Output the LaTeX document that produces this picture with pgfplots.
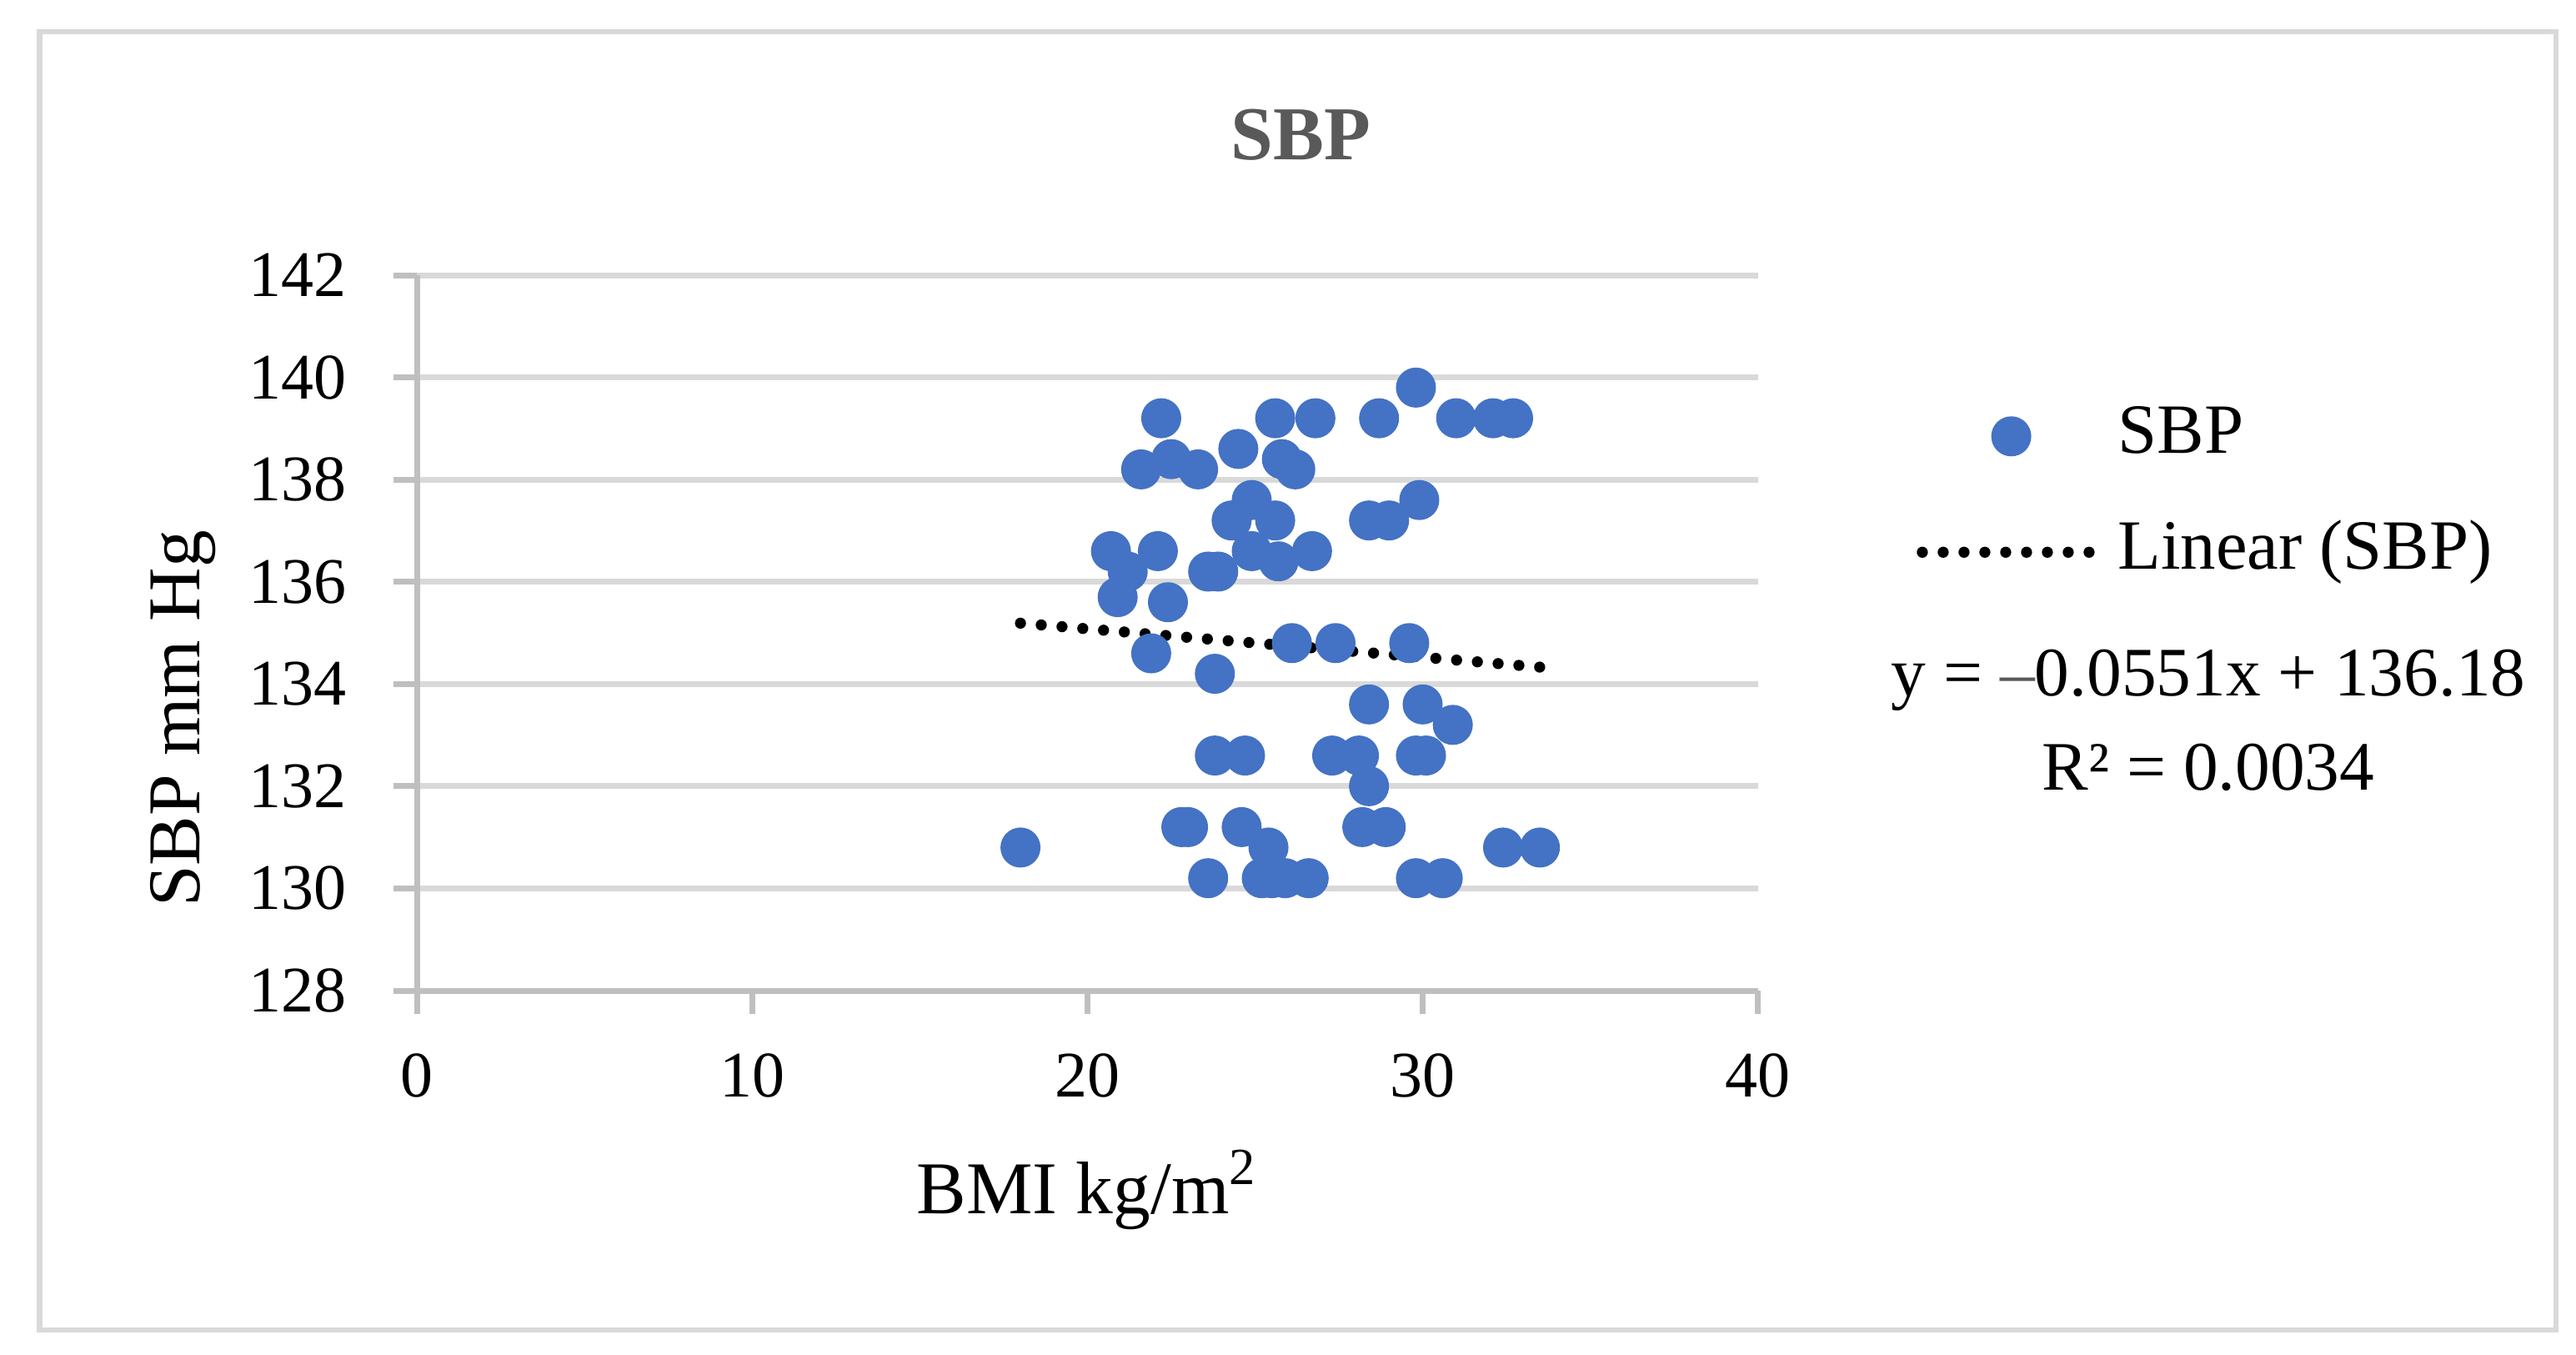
\documentclass[border=0pt]{standalone}
\usepackage{fontspec}
\setmainfont{Liberation Serif}
\usepackage{pgfplots}
\pgfplotsset{compat=1.18}
\usepackage{pgfplotstable}

\definecolor{sbpblue}{HTML}{4472C4}
\definecolor{gridgray}{HTML}{D9D9D9}
\definecolor{axisgray}{HTML}{BFBFBF}
\definecolor{titlegray}{HTML}{595959}

\pgfplotsset{
  dotlegend/.style={legend image code/.code={
    \draw[##1] plot[only marks] coordinates {(16pt,0pt)};}},
  linelegend/.style={legend image code/.code={\draw[##1] (0pt,0pt) -- (32pt,0pt);}},
}

% BMI (kg/m^2) against SBP (mm Hg)
\pgfplotstableread{
bmi sbp
22.2 139.2
21.6 138.2
22.5 138.4
23.3 138.2
24.5 138.6
25.6 139.2
26.8 139.2
25.8 138.4
26.2 138.2
28.7 139.2
29.8 139.8
31.0 139.2
32.1 139.2
32.7 139.2
24.9 137.6
24.3 137.2
25.6 137.2
24.9 136.6
25.7 136.4
26.7 136.6
23.6 136.2
23.9 136.2
20.7 136.6
21.2 136.2
22.1 136.6
20.9 135.7
22.4 135.6
21.9 134.6
23.8 134.2
26.1 134.8
27.4 134.8
29.6 134.8
29.9 137.6
28.4 137.2
29.0 137.2
28.4 133.6
30.0 133.6
30.9 133.2
23.8 132.6
24.7 132.6
27.3 132.6
28.1 132.6
28.4 132.0
29.8 132.6
30.1 132.6
18.0 130.8
22.8 131.2
23.0 131.2
24.6 131.2
25.4 130.8
23.6 130.2
25.2 130.2
25.5 130.2
25.9 130.2
26.6 130.2
28.2 131.2
28.9 131.2
29.8 130.2
30.6 130.2
32.4 130.8
33.5 130.8
}\sbpdata

\begin{document}
\begin{tikzpicture}
\useasboundingbox (-75.075pt,-65.55pt) rectangle (388.425pt,178.2pt);
\draw[gridgray, line width=1pt] (-67.9pt,-61.05pt) rectangle (384.8pt,172.5pt);
\node[anchor=base, text=titlegray, font=\bfseries\fontsize{13.7}{16}\selectfont] at (159pt,149.4pt) {SBP};

\begin{axis}[
  scale only axis, width=241.2pt, height=128.7pt,
  at={(0pt,0pt)}, anchor=south west,
  xmin=0, xmax=40, ymin=128, ymax=142,
  xtick={0,10,...,40}, ytick={128,130,...,142},
  axis x line*=bottom, axis y line*=left,
  axis line style={axisgray, line width=1.05pt, -},
  ymajorgrids, major grid style={gridgray, line width=1.05pt},
  tick align=outside, major tick length=4.2pt,
  major tick style={axisgray, line width=1.05pt},
  tick label style={font=\fontsize{11.7}{14}\selectfont},
  /pgf/number format/assume math mode=true,
  xticklabel style={anchor=north, inner sep=0pt, yshift=-6.9pt},
  yticklabel style={anchor=east, inner sep=0pt, xshift=-8.4pt},
  xlabel={BMI kg/m\textsuperscript{2}},
  ylabel={SBP mm Hg},
  label style={font=\fontsize{13.4}{16}\selectfont},
  xlabel style={at={(axis description cs:0.5,-0.3112)}, anchor=base},
  ylabel style={at={(axis description cs:-0.1621,0.38)}, anchor=base},
  legend style={at={(axis description cs:1.1178,0.8229)}, anchor=north west,
    draw=none, fill=none, inner sep=0pt,
    font=\fontsize{12.7}{15}\selectfont,
    nodes={inner sep=0pt, text height=9pt, text depth=3pt},
    row sep=8.85pt,
    /tikz/every odd column/.append style={column sep=2.2pt}},
  legend cell align=left,
]
\addplot[sbpblue, only marks, mark=*, mark size=3.4pt,
  mark options={fill=sbpblue}, dotlegend]
  table[x=bmi, y=sbp] {\sbpdata};
\addlegendentry{SBP}

% linear trendline, y = -0.0551x + 136.18, over the data range
\addplot[black, line width=2pt, line cap=round, dash pattern=on 0pt off 3.75pt, linelegend]
  coordinates {(18.0,135.19) (33.5,134.33)};
\addlegendentry{Linear (SBP)}
\end{axis}

\node[anchor=base, font=\fontsize{12.5}{15}\selectfont] at (322.3pt,53.0pt)
  {y = {\color{titlegray}–}0.0551x + 136.18};
\node[anchor=base, font=\fontsize{12.5}{15}\selectfont] at (322.3pt,36.15pt)
  {R² = 0.0034};
\end{tikzpicture}
\end{document}
